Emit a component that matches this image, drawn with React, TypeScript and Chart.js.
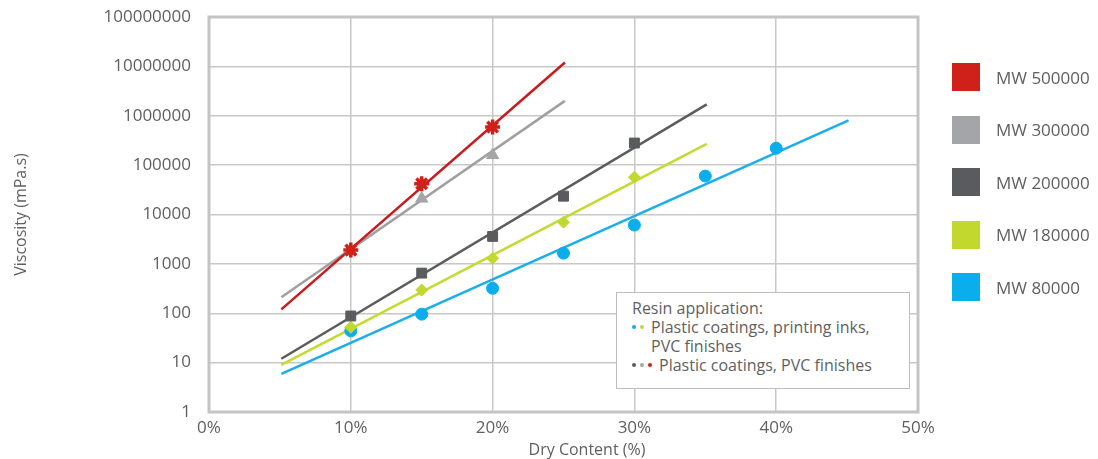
import React, { useEffect, useRef } from "react";
import { Chart, registerables } from "chart.js";

Chart.register(...registerables);

// ---- Data ----
const seriesLabels = ["MW 500000", "MW 300000", "MW 200000", "MW 180000", "MW 80000"];
const seriesColors = ["#D0201A", "#A3A5A8", "#5A5B5E", "#C3D82E", "#0BAEEC"];
const lineColors = ["#C81B1E", "#A0A0A2", "#5C5C5E", "#C5DA30", "#1AAFEA"];

const x500 = [10, 15, 20];
const y500 = [1900, 42000, 590000];
const x300 = [10, 15, 20];
const y300 = [1800, 21000, 160000];
const x200 = [10, 15, 20, 25, 30];
const y200 = [88, 650, 3600, 23500, 280000];
const x180 = [10, 15, 20, 25, 30];
const y180 = [52, 295, 1300, 7000, 57000];
const x80 = [10, 15, 20, 25, 30, 35, 40];
const y80 = [44, 96, 320, 1650, 6100, 60000, 220000];

// trend lines (start / end)
const trendX500 = [5.1, 25.1];
const trendY500 = [120, 12000000];
const trendX300 = [5.1, 25.1];
const trendY300 = [210, 2000000];
const trendX200 = [5.1, 35.1];
const trendY200 = [12, 1700000];
const trendX180 = [5.1, 35.1];
const trendY180 = [9, 270000];
const trendX80 = [5.1, 45.1];
const trendY80 = [5.9, 810000];

const yTickValues = [1, 10, 100, 1000, 10000, 100000, 1000000, 10000000, 100000000];
const xTickValues = [0, 10, 20, 30, 40, 50];

const FONT = "'Open Sans', 'Noto Sans', sans-serif";
const TEXT = "#5f5f5f";

const pts = (xs: number[], ys: number[]) => xs.map((x, i) => ({ x, y: ys[i] }));

const framePlugin = {
  id: "frame",
  afterDraw(chart: any) {
    const { ctx, chartArea } = chart;
    ctx.save();
    ctx.strokeStyle = "#c4c4c4";
    ctx.lineWidth = 3;
    ctx.strokeRect(chartArea.left, chartArea.top, chartArea.right - chartArea.left, chartArea.bottom - chartArea.top);
    ctx.restore();
  },
};

export default function App() {
  const ref = useRef<HTMLCanvasElement>(null);

  useEffect(() => {
    if (!ref.current) return;
    const markerSets = [
      { xs: x500, ys: y500, style: "star", r: 7.5, bw: 3.5 },
      { xs: x300, ys: y300, style: "triangle", r: 7, bw: 1 },
      { xs: x200, ys: y200, style: "rect", r: 7, bw: 1 },
      { xs: x180, ys: y180, style: "rectRot", r: 6, bw: 1 },
      { xs: x80, ys: y80, style: "circle", r: 6, bw: 1 },
    ];
    const trendSets = [
      [trendX500, trendY500],
      [trendX300, trendY300],
      [trendX200, trendY200],
      [trendX180, trendY180],
      [trendX80, trendY80],
    ];
    const datasets: any[] = [];
    markerSets.forEach((m, i) => {
      datasets.push({
        label: seriesLabels[i],
        data: pts(m.xs, m.ys),
        showLine: false,
        pointStyle: m.style,
        pointRadius: m.r,
        pointBorderWidth: m.bw,
        pointBackgroundColor: seriesColors[i],
        pointBorderColor: seriesColors[i],
        order: 0,
      });
    });
    trendSets.forEach((t, i) => {
      datasets.push({
        label: seriesLabels[i] + " trend",
        data: pts(t[0], t[1]),
        showLine: true,
        borderColor: lineColors[i],
        borderWidth: 2.5,
        pointRadius: 0,
        order: 1,
      });
    });

    const chart = new Chart(ref.current, {
      type: "scatter",
      data: { datasets },
      plugins: [framePlugin],
      options: {
        responsive: false,
        animation: false,
        devicePixelRatio: 1,
        layout: { padding: { left: 0, top: 17, right: 180, bottom: 0 } },
        plugins: { legend: { display: false }, tooltip: { enabled: false } },
        scales: {
          x: {
            type: "linear",
            min: 0,
            max: 50,
            afterBuildTicks: (scale: any) => {
              scale.ticks = xTickValues.map((v) => ({ value: v }));
            },
            afterFit: (scale: any) => {
              scale.height = 47;
              scale.paddingLeft = 0;
              scale.paddingRight = 0;
            },
            ticks: {
              callback: (v: any) => v + "%",
              color: TEXT,
              font: { family: FONT, size: 17 },
              padding: 6,
              maxRotation: 0,
            },
            grid: { color: "#c8c8c8", lineWidth: 1.5, drawTicks: false },
            border: { display: false },
            title: { display: false },
          },
          y: {
            type: "logarithmic",
            min: 1,
            max: 100000000,
            afterBuildTicks: (scale: any) => {
              scale.ticks = yTickValues.map((v) => ({ value: v }));
            },
            afterFit: (scale: any) => {
              scale.width = 209;
              scale.paddingTop = 0;
              scale.paddingBottom = 0;
            },
            ticks: {
              callback: (v: any) => String(Math.round(Number(v))),
              color: TEXT,
              font: { family: FONT, size: 17 },
              padding: 18,
            },
            grid: { color: "#c8c8c8", lineWidth: 1.5, drawTicks: false },
            border: { display: false },
            title: {
              display: true,
              text: "Viscosity (mPa.s)",
              color: TEXT,
              font: { family: FONT, size: 16 },
              padding: { top: 12, bottom: 0 },
            },
          },
        },
      } as any,
    });
    return () => chart.destroy();
  }, []);

  const dot = (c: string) => (
    <span
      style={{
        display: "inline-block",
        width: 4,
        height: 4,
        borderRadius: 2,
        background: c,
        marginRight: 4,
        verticalAlign: "middle",
        position: "relative",
        top: -2,
      }}
    />
  );

  return (
    <div
      style={{
        position: "fixed",
        left: 0,
        top: 0,
        width: 1098,
        height: 459,
        background: "#fff",
        fontFamily: FONT,
        color: TEXT,
      }}
    >
      <canvas ref={ref} width={1098} height={459} style={{ width: 1098, height: 459, display: "block" }} />
      {/* X axis title */}
      <div
        style={{
          position: "absolute",
          left: 487,
          width: 200,
          top: 438,
          textAlign: "center",
          fontSize: 16,
          lineHeight: "22px",
        }}
      >
        Dry Content (%)
      </div>
      {/* Legend */}
      {seriesLabels.map((lab, i) => (
        <div
          key={lab}
          style={{
            position: "absolute",
            left: 952,
            top: 63 + i * 52.5,
            height: 28,
            display: "flex",
            alignItems: "center",
            whiteSpace: "nowrap",
          }}
        >
          <span style={{ display: "inline-block", width: 28, height: 28, background: seriesColors[i] }} />
          <span style={{ marginLeft: 16, fontSize: 17 }}>{lab}</span>
        </div>
      ))}
      {/* Annotation box */}
      <div
        style={{
          position: "absolute",
          left: 616,
          top: 292,
          width: 294,
          height: 97,
          border: "1px solid #bdbdbd",
          background: "#fff",
          boxSizing: "border-box",
          padding: "6px 0 0 15px",
          fontSize: 16,
          lineHeight: "19px",
          whiteSpace: "nowrap",
        }}
      >
        <div>Resin application:</div>
        <div>
          {dot(seriesColors[4])}
          {dot(seriesColors[3])}
          <span style={{ marginLeft: 3 }}>Plastic coatings, printing inks,</span>
        </div>
        <div style={{ paddingLeft: 19 }}>PVC finishes</div>
        <div>
          {dot(seriesColors[2])}
          {dot(seriesColors[1])}
          {dot(seriesColors[0])}
          <span style={{ marginLeft: 3 }}>Plastic coatings, PVC finishes</span>
        </div>
      </div>
    </div>
  );
}
